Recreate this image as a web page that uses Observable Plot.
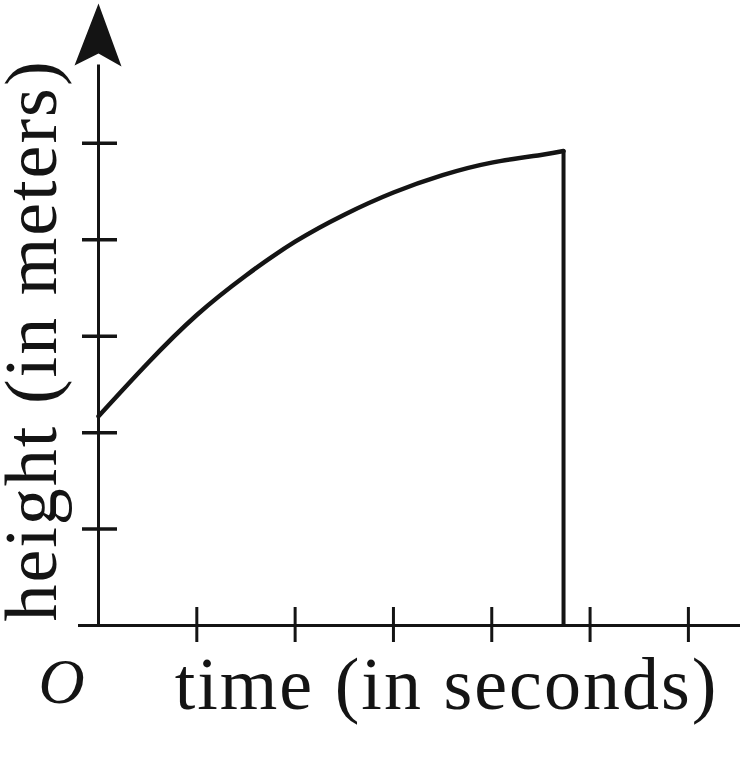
<!DOCTYPE html>
<html><head><meta charset="utf-8">
<script src="https://cdn.jsdelivr.net/npm/d3@7"></script>
<script src="https://cdn.jsdelivr.net/npm/@observablehq/plot@0.6"></script>
<style>
html,body{margin:0;padding:0;background:#fff;}
#chart svg{display:block;}
</style></head><body><div id="chart"></div>
<script>
// Data
const timeValues   = [0, 0.5, 1, 1.5, 2, 2.5, 3, 3.5, 4, 4.5, 4.73];
const heightValues = [2.17, 2.72, 3.22, 3.63, 3.98, 4.26, 4.49, 4.67, 4.80, 4.88, 4.92];
const xTicks = [1, 2, 3, 4, 5, 6];
const yTicks = [1, 2, 3, 4, 5];
const xLabel = "time (in seconds)";
const yLabel = "height (in meters)";
const originLabel = "O";
const xMax = 6.53;
const yMax = 6.45;

const curve = timeValues.map((t, i) => ({t, h: heightValues[i]}));
const endPoint = curve[curve.length - 1];
const ink = "#141414";
const serif = "'Liberation Serif', 'Times New Roman', serif";
const arrowHead = {draw(ctx) {
  ctx.moveTo(0, 0); ctx.lineTo(-24, 62); ctx.lineTo(0, 50); ctx.lineTo(23, 63); ctx.closePath();
}};

const chart = Plot.plot({
  width: 740, height: 759,
  marginLeft: 98, marginRight: 0, marginTop: 3, marginBottom: 134,
  x: {domain: [0, xMax], axis: null},
  y: {domain: [0, yMax], axis: null},
  style: {background: "#fff", color: ink},
  marks: [
    Plot.ruleY([0], {x1: 0, x2: xMax, insetLeft: -20, stroke: ink, strokeWidth: 3}),
    Plot.ruleX([0], {y1: 0, y2: 6.0, insetBottom: -18, stroke: ink, strokeWidth: 3}),
    Plot.ruleX(xTicks, {y1: 0, y2: 0, insetTop: -18, insetBottom: -17, stroke: ink, strokeWidth: 3}),
    Plot.ruleY(yTicks, {x1: 0, x2: 0, insetLeft: -16, insetRight: -19, stroke: ink, strokeWidth: 3.5}),
    Plot.line(curve, {x: "t", y: "h", curve: "natural", stroke: ink, strokeWidth: 4.5}),
    Plot.ruleX([endPoint], {x: "t", y1: 0, y2: "h", stroke: ink, strokeWidth: 4}),
    Plot.dot([yMax], {x: 0, y: d => d, symbol: arrowHead, fill: ink, stroke: "none"}),
    Plot.text([xLabel], {text: d => d, frameAnchor: "bottom", textAnchor: "middle", dx: 27, dy: 83, lineAnchor: "bottom",
      fontSize: 74, fontFamily: serif, fill: ink}),
    Plot.text([yLabel], {text: d => d, frameAnchor: "left", textAnchor: "middle", rotate: -90, dx: -43, dy: 26, lineAnchor: "bottom",
      fontSize: 74, fontFamily: serif, fill: ink}),
    Plot.text([originLabel], {text: d => d, frameAnchor: "bottom-left", textAnchor: "middle", dx: -36, dy: 77, lineAnchor: "bottom",
      fontSize: 64, fontStyle: "italic", fontFamily: serif, fill: ink})
  ]
});
d3.select(chart).selectAll("text").style("letter-spacing", "2px");
document.getElementById("chart").appendChild(chart);
</script></body></html>
